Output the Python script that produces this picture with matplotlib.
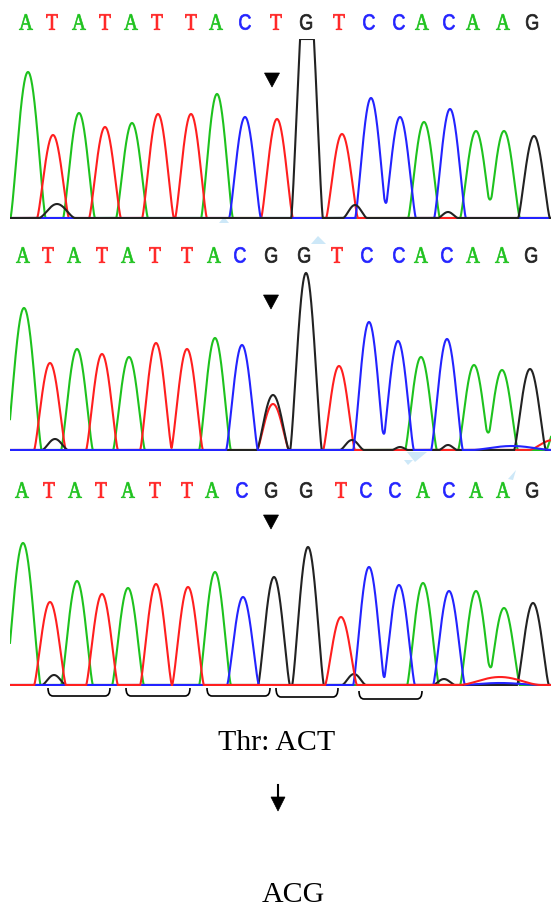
import numpy as np
import matplotlib
matplotlib.use("Agg")
import matplotlib.pyplot as plt
from matplotlib.patches import Polygon, PathPatch, Rectangle
from matplotlib.path import Path
from matplotlib.textpath import TextPath
from matplotlib.font_manager import FontProperties
from matplotlib.transforms import Affine2D

# ---------------- data ----------------
seq1 = list("ATATATTACTGTCCACAAG")
seq2 = list("ATATATTACGGTCCACAAG")
seq3 = list("ATATATTACGGTCCACAAG")
seq1_x = [26, 52, 79, 105, 131, 157, 191, 216, 245, 276, 306, 339, 369, 399, 422, 449, 473, 503, 532]
seq2_x = [23, 48, 74, 102, 128, 155, 187, 214, 240, 271, 304, 337, 367, 399, 421, 447, 473, 502, 531]
seq3_x = [22, 49, 75, 101, 128, 155, 187, 212, 242, 271, 306, 341, 366, 395, 423, 449, 476, 503, 532]

# peaks: base, position, height (pixels above baseline)
p1_base = list("ATATATTACTGTCCACAAG")
p1_x = [28, 53, 79, 105, 132, 158, 191, 217, 245, 277, 307, 342, 371, 400, 424, 450, 476, 504, 534]
p1_h = [146, 83, 105, 91, 95, 104, 104, 124, 101, 99, 250, 84, 120, 101, 96, 109, 87, 87, 82]

p2_base = list("ATATATTACGTGTCCACAAG")
p2_x = [24, 50, 77, 102, 129, 156, 187, 215, 242, 273, 273, 306, 339, 369, 398, 421, 447, 474, 502, 530]
p2_h = [142, 87, 101, 96, 93, 107, 101, 112, 105, 55, 46, 177, 84, 128, 109, 93, 111, 85, 80, 81]

p3_base = list("ATATATTACGGTCCACAAG")
p3_x = [23, 50, 77, 102, 128, 156, 188, 215, 243, 274, 308, 341, 369, 399, 423, 449, 476, 504, 533]
p3_h = [142, 83, 104, 91, 97, 101, 98, 113, 88, 108, 138, 68, 118, 100, 102, 94, 94, 77, 82]

# small background bumps: base, position, height, half-width
b1_base = ["G", "G", "G"]
b1_x = [57, 355, 448]
b1_h = [14, 13, 6]
b1_w = [18, 12, 10]

b2_base = ["G", "G", "G", "G", "T", "A", "C"]
b2_x = [55, 352, 400, 448, 553, 555, 512]
b2_h = [11, 10, 3, 5, 10, 20, 4]
b2_w = [13, 12, 8, 9, 24, 9, 40]

b3_base = ["G", "G", "G", "T", "C"]
b3_x = [54, 354, 444, 500, 500]
b3_h = [10, 11, 6, 8, 2]
b3_w = [12, 12, 11, 40, 40]

# annotation positions
mut_x = [272, 271, 271]            # mutation arrowheads
mut_y = [73, 295, 515]
bracket_x0 = [48, 126, 207, 276, 359]
bracket_x1 = [110, 190, 270, 338, 422]
bracket_top = [688, 688, 688, 688, 691]
bracket_bot = [696, 696, 696, 697, 699]

COL = {"A": "#1ec21e", "T": "#ff1f1f", "C": "#2323ff", "G": "#222222"}
PEAK_W = 15.8

# ---------------- figure ----------------
fig = plt.figure(figsize=(5.51, 9.09), dpi=100)
ax = fig.add_axes([0, 0, 1, 1])
ax.set_xlim(0, 551)
ax.set_ylim(909, 0)
ax.axis("off")

xs = np.linspace(10, 551, 3000)


def shape(d, w, p=1.3):
    out = np.zeros_like(d)
    m = np.abs(d) < w
    out[m] = np.cos(np.pi * d[m] / (2 * w)) ** p
    return out


def panel(bases, px, ph, bb, bx, bh, bw, baseline, top, order):
    rect = Rectangle((10, top), 541, baseline + 1.2 - top, transform=ax.transData)
    for b in order:
        sig = np.zeros_like(xs)
        for bi, x, h in zip(bases, px, ph):
            if bi == b:
                w = 17.5 if x < 35 else PEAK_W
                sig += h * shape(xs - x, w)
        for bi, x, h, w in zip(bb, bx, bh, bw):
            if bi == b:
                sig += h * shape(xs - x, w, 1.6)
        y = np.maximum(baseline - sig, top)
        ln, = ax.plot(xs, y, color=COL[b], lw=1.5, solid_joinstyle="miter")
        ln.set_clip_path(rect)


panel(p1_base, p1_x, p1_h, b1_base, b1_x, b1_h, b1_w, 218, 39, ["A", "T", "C", "G"])
panel(p2_base, p2_x, p2_h, b2_base, b2_x, b2_h, b2_w, 450, 240, ["A", "T", "G", "C"])
panel(p3_base, p3_x, p3_h, b3_base, b3_x, b3_h, b3_w, 685, 480, ["A", "G", "C", "T"])

# sequence letters
FP = {"A": FontProperties(family="Liberation Serif"),
      "T": FontProperties(family="Liberation Serif"),
      "C": FontProperties(family="Liberation Sans"),
      "G": FontProperties(family="Liberation Sans")}


def letter(ch, xc, yc, H=15.5, cond=0.82):
    tp = TextPath((0, 0), ch, size=100, prop=FP[ch])
    bb = tp.get_extents()
    s = H / bb.height
    tr = Affine2D().translate(-(bb.x0 + bb.x1) / 2, -(bb.y0 + bb.y1) / 2).scale(s * cond, -s).translate(xc, yc)
    ax.add_patch(PathPatch(tr.transform_path(tp), facecolor=COL[ch],
                           edgecolor=COL[ch], lw=0.5))


for seq, sx, yc in [(seq1, seq1_x, 22), (seq2, seq2_x, 255), (seq3, seq3_x, 490)]:
    for ch, x in zip(seq, sx):
        letter(ch, x, yc)

# mutation arrowheads
for x, y in zip(mut_x, mut_y):
    ax.add_patch(Polygon([(x - 7.5, y), (x + 7.5, y), (x, y + 14)], closed=True,
                         facecolor="black", edgecolor="black", lw=0.5))

# codon brackets
for x0, x1, yt, yb in zip(bracket_x0, bracket_x1, bracket_top, bracket_bot):
    verts = [(x0, yt), (x0, yb), (x0 + 5, yb), (x1 - 5, yb), (x1, yb), (x1, yt)]
    codes = [Path.MOVETO, Path.CURVE3, Path.CURVE3, Path.LINETO, Path.CURVE3, Path.CURVE3]
    ax.add_patch(PathPatch(Path(verts, codes), facecolor="none", edgecolor="black", lw=1.2))

# light blue artefacts
lb = "#cde8f8"
ax.add_patch(Polygon([(219, 223), (229, 223), (224, 217)], closed=True, facecolor=lb, edgecolor="none"))
ax.add_patch(Polygon([(311, 244), (326, 244), (318, 236)], closed=True, facecolor=lb, edgecolor="none"))
ax.add_patch(Polygon([(407, 452), (427, 452), (415, 462)], closed=True, facecolor=lb, edgecolor="none"))
ax.add_patch(Polygon([(404, 460), (413, 460), (408, 465)], closed=True, facecolor=lb, edgecolor="none"))
ax.add_patch(Polygon([(508, 479), (516, 470), (513, 480)], closed=True, facecolor=lb, edgecolor="none"))

# codon change text
ax.text(277, 750, "Thr: ACT", ha="center", va="baseline", fontsize=21.5,
        family="Liberation Serif", color="black")
ax.plot([278, 278], [785, 799], color="black", lw=1.5)
ax.add_patch(Polygon([(271, 797), (285, 797), (278, 811)], closed=True,
                     facecolor="black", edgecolor="black", lw=0.5))
ax.text(293, 902, "ACG", ha="center", va="baseline", fontsize=21.5,
        family="Liberation Serif", color="black")

fig.savefig("out.png", dpi=100)
